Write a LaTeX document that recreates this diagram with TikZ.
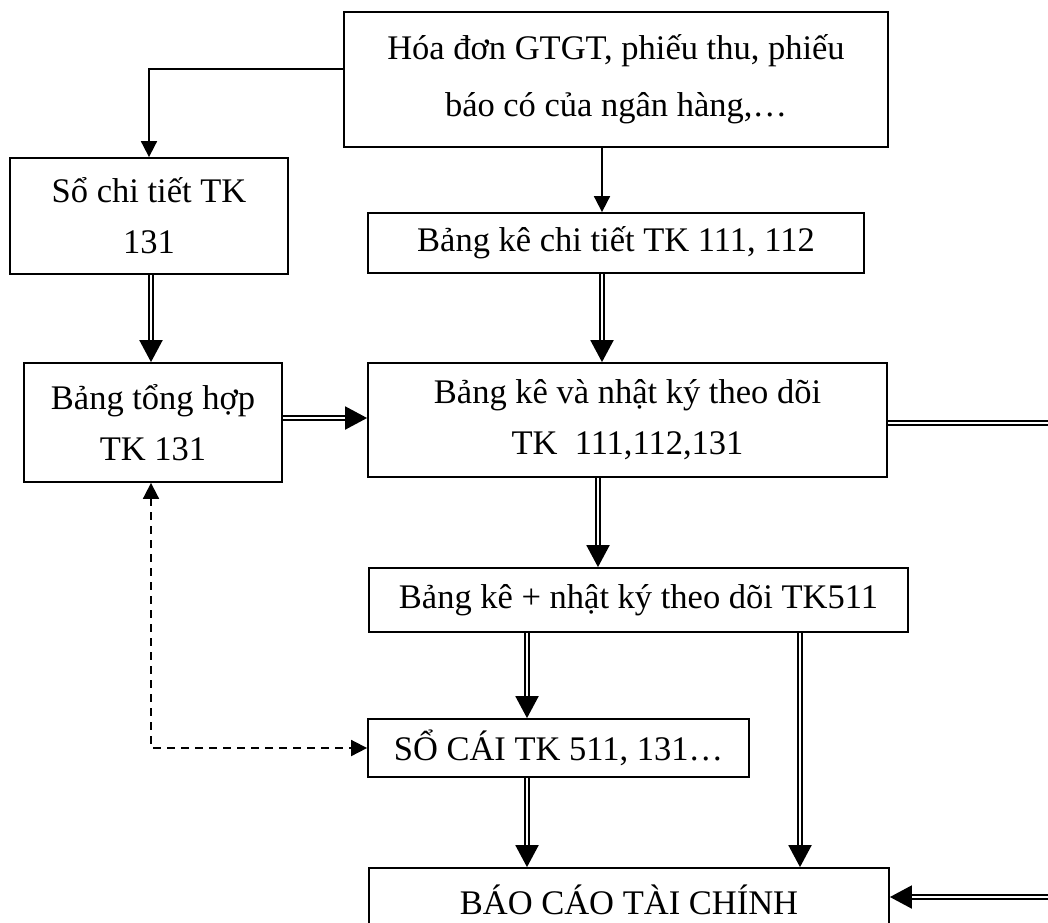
\documentclass[tikz,border=0pt]{standalone}
\usepackage{fontspec}
\setmainfont{Liberation Serif}
\usetikzlibrary{arrows.meta}

\tikzstyle{docbox} = [rectangle, draw = black, line width = 1.8pt, align = center, inner sep = 0pt]
\tikzstyle{thinarrow} = [line width = 1.8pt, -{Triangle[length = 16pt, width = 16pt]}]
\tikzstyle{dblarrow} = [double, double distance = 2.6pt, line width = 2pt, -{Triangle[length = 22pt, width = 23pt]}]
\tikzstyle{dasharrow} = [dashed, dash pattern = on 8pt off 6pt, line width = 1.8pt, {Triangle[length = 16pt, width = 16pt]}-{Triangle[length = 16pt, width = 16pt]}]

\begin{document}
\begin{tikzpicture}[x = 1pt, y = -1pt, font = \fontsize{34.5}{51}\selectfont]
			\useasboundingbox (0,0) rectangle (1048,922);
			\node[docbox, minimum width = 544pt, minimum height = 135pt] (hoadon) at (616,79.5) {Hóa đơn GTGT, phiếu thu, phiếu\\[6pt] báo có của ngân hàng,…};
			\node[docbox, minimum width = 278pt, minimum height = 116pt] (soct) at (149,216) {Sổ chi tiết TK\\ 131};
			\node[docbox, minimum width = 496pt, minimum height = 60pt] (bkct) at (616,243) {Bảng kê chi tiết TK 111, 112};
			\node[docbox, minimum width = 258pt, minimum height = 119pt] (tonghop) at (153,422.5) {Bảng tổng hợp\\ TK 131};
			\node[docbox, minimum width = 519pt, minimum height = 114pt] (nhatky) at (627.5,420) {Bảng kê và nhật ký theo dõi\\ TK\ \ 111,112,131};
			\node[docbox, minimum width = 539pt, minimum height = 64pt] (tk511) at (638.5,600) {Bảng kê + nhật ký theo dõi TK511};
			\node[docbox, minimum width = 381pt, minimum height = 58pt] (socai) at (558.5,748) {SỔ CÁI TK 511, 131…};
			\node[docbox, minimum width = 520pt, minimum height = 64pt] (baocao) at (629,900) {BÁO CÁO TÀI CHÍNH};
			% columns and rows of the links
			\coordinate (cA) at (151,0);
			\coordinate (cB) at (602,0);
			\coordinate (cC) at (598,0);
			\coordinate (cD) at (527,0);
			\coordinate (cE) at (800,0);
			\coordinate (rA) at (0,69);
			\coordinate (rB) at (0,418);
			\coordinate (rC) at (0,423);
			\coordinate (rD) at (0,897);
			\draw[thinarrow] (hoadon.west |- rA) -| (soct);
			\draw[thinarrow] (hoadon.south -| cB) -- (bkct.north -| cB);
			\draw[dblarrow] (soct.south -| cA) -- (tonghop.north -| cA);
			\draw[dblarrow] (bkct.south -| cB) -- (nhatky.north -| cB);
			\draw[dblarrow] (tonghop.east |- rB) -- (nhatky.west |- rB);
			\draw[dblarrow] (nhatky.south -| cC) -- (tk511.north -| cC);
			\draw[dblarrow] (tk511.south -| cD) -- (socai.north -| cD);
			\draw[dblarrow] (socai.south -| cD) -- (baocao.north -| cD);
			\draw[dblarrow] (tk511.south -| cE) -- (baocao.north -| cE);
			\draw[dblarrow] (nhatky.east |- rC) -- ++(220,0) |- (baocao.east |- rD);
			\draw[dasharrow] (tonghop.south -| cA) |- (socai.west);
		\end{tikzpicture}
\end{document}
